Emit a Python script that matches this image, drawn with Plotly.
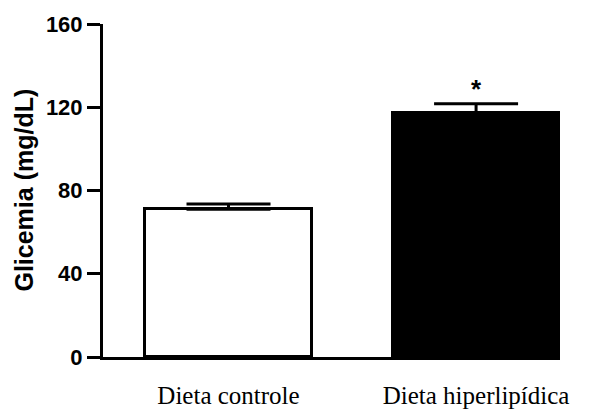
import plotly.graph_objects as go

categories = ["Dieta controle", "Dieta hiperlipídica"]
means = [71, 117]
sem = [2.5, 4.7]
bar_colors = ["white", "black"]
y_ticks = [0, 40, 80, 120, 160]
y_title = "Glicemia (mg/dL)"
signif = ["", "*"]

x_pos = list(range(len(categories)))

fig = go.Figure()
fig.add_trace(go.Bar(
    x=x_pos, y=means, width=0.675,
    marker=dict(color=bar_colors, line=dict(color="black", width=3)),
    error_y=dict(type="data", symmetric=False, array=sem, arrayminus=[0, 0],
                 color="black", thickness=3, width=42),
    showlegend=False, hoverinfo="skip",
))

for xi, m, s, t in zip(x_pos, means, sem, signif):
    if t:
        fig.add_annotation(x=xi, y=m + s, text=t, showarrow=False,
                           yanchor="bottom", yshift=-2,
                           font=dict(family="Liberation Sans, Arial", size=26, color="black", weight="bold"))

fig.add_annotation(xref="paper", yref="paper", x=-0.175, y=0.5, text=y_title,
                   textangle=-90, showarrow=False, xanchor="center", yanchor="middle",
                   font=dict(family="Liberation Sans, Arial", size=25, color="black", weight="bold"))

fig.update_layout(
    width=590, height=410,
    margin=dict(l=103, r=30, t=24, b=53, autoexpand=False),
    plot_bgcolor="white", paper_bgcolor="white",
    bargap=0,
)
fig.update_xaxes(
    range=[-0.507, 1.339], tickvals=x_pos, ticktext=categories, automargin=False,
    showline=True, linecolor="black", linewidth=3, ticks="", showgrid=False,
    zeroline=False, ticklabelstandoff=14,
    tickfont=dict(family="Liberation Serif, Times New Roman", size=25, color="black"),
)
fig.update_yaxes(
    range=[0, 160], tickvals=y_ticks, showline=True, linecolor="black", linewidth=3,
    ticks="outside", ticklen=13, tickwidth=3, tickcolor="black", showgrid=False,
    zeroline=False, ticklabelstandoff=0, automargin=False,
    tickfont=dict(family="Liberation Sans, Arial", size=22, color="black", weight="bold"),
)

fig.write_html("out.html", config={"displayModeBar": False},
               post_script="document.body.style.margin='0';document.body.style.padding='0';")
